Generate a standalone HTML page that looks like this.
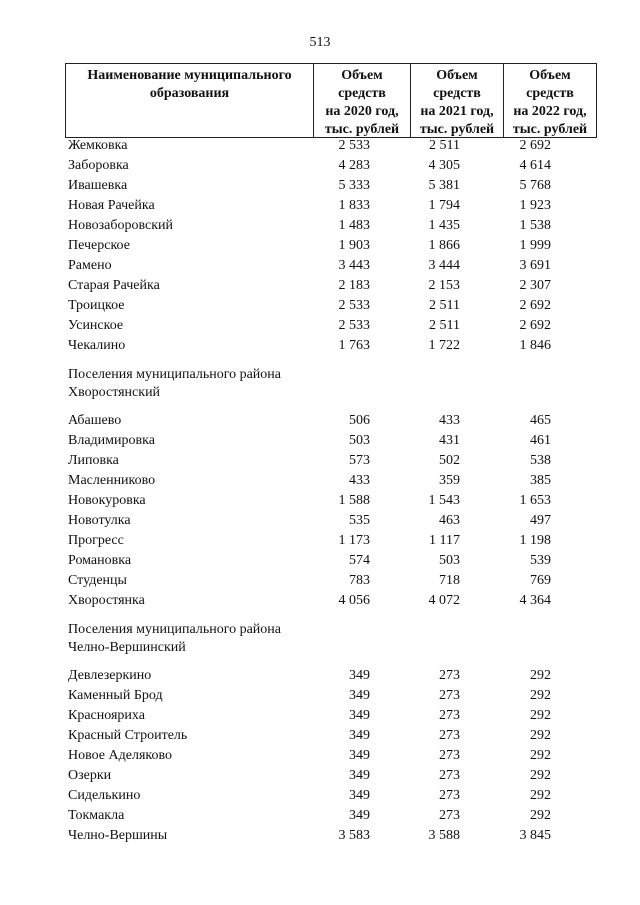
<!DOCTYPE html>
<html><head><meta charset="utf-8"><style>
body{margin:0;width:640px;height:905px;background:#fff;position:relative;font-family:"Liberation Serif",serif;font-size:14px;color:#111;overflow:hidden}
div{position:absolute;line-height:20px;white-space:nowrap}
.n{left:68px}
.a{right:270px}.b{right:180px}.c{right:89px}
.box{border:1px solid #222}
.h{font-weight:bold;text-align:center;line-height:18px}
</style></head><body>
<div style="left:0;width:640px;top:33px;text-align:center">513</div>
<div class="box" style="left:65px;top:63px;width:530px;height:73px"></div>
<div style="left:313px;top:63px;width:1px;height:74px;background:#222"></div>
<div style="left:410px;top:63px;width:1px;height:74px;background:#222"></div>
<div style="left:503px;top:63px;width:1px;height:74px;background:#222"></div>
<div class="h" style="left:66px;width:247px;top:67px">Наименование муниципального<br>образования</div>
<div class="h" style="left:314px;width:96px;top:67px">Объем<br>средств<br>на 2020 год,<br>тыс. рублей</div>
<div class="h" style="left:411px;width:92px;top:67px">Объем<br>средств<br>на 2021 год,<br>тыс. рублей</div>
<div class="h" style="left:504px;width:92px;top:67px">Объем<br>средств<br>на 2022 год,<br>тыс. рублей</div>

<div class="n" style="top:136px">Жемковка</div><div class="a" style="top:136px">2 533</div><div class="b" style="top:136px">2 511</div><div class="c" style="top:136px">2 692</div>
<div class="n" style="top:156px">Заборовка</div><div class="a" style="top:156px">4 283</div><div class="b" style="top:156px">4 305</div><div class="c" style="top:156px">4 614</div>
<div class="n" style="top:176px">Ивашевка</div><div class="a" style="top:176px">5 333</div><div class="b" style="top:176px">5 381</div><div class="c" style="top:176px">5 768</div>
<div class="n" style="top:196px">Новая Рачейка</div><div class="a" style="top:196px">1 833</div><div class="b" style="top:196px">1 794</div><div class="c" style="top:196px">1 923</div>
<div class="n" style="top:216px">Новозаборовский</div><div class="a" style="top:216px">1 483</div><div class="b" style="top:216px">1 435</div><div class="c" style="top:216px">1 538</div>
<div class="n" style="top:236px">Печерское</div><div class="a" style="top:236px">1 903</div><div class="b" style="top:236px">1 866</div><div class="c" style="top:236px">1 999</div>
<div class="n" style="top:256px">Рамено</div><div class="a" style="top:256px">3 443</div><div class="b" style="top:256px">3 444</div><div class="c" style="top:256px">3 691</div>
<div class="n" style="top:276px">Старая Рачейка</div><div class="a" style="top:276px">2 183</div><div class="b" style="top:276px">2 153</div><div class="c" style="top:276px">2 307</div>
<div class="n" style="top:296px">Троицкое</div><div class="a" style="top:296px">2 533</div><div class="b" style="top:296px">2 511</div><div class="c" style="top:296px">2 692</div>
<div class="n" style="top:316px">Усинское</div><div class="a" style="top:316px">2 533</div><div class="b" style="top:316px">2 511</div><div class="c" style="top:316px">2 692</div>
<div class="n" style="top:336px">Чекалино</div><div class="a" style="top:336px">1 763</div><div class="b" style="top:336px">1 722</div><div class="c" style="top:336px">1 846</div>

<div class="n" style="top:365px">Поселения муниципального района</div>
<div class="n" style="top:383px">Хворостянский</div>

<div class="n" style="top:411px">Абашево</div><div class="a" style="top:411px">506</div><div class="b" style="top:411px">433</div><div class="c" style="top:411px">465</div>
<div class="n" style="top:431px">Владимировка</div><div class="a" style="top:431px">503</div><div class="b" style="top:431px">431</div><div class="c" style="top:431px">461</div>
<div class="n" style="top:451px">Липовка</div><div class="a" style="top:451px">573</div><div class="b" style="top:451px">502</div><div class="c" style="top:451px">538</div>
<div class="n" style="top:471px">Масленниково</div><div class="a" style="top:471px">433</div><div class="b" style="top:471px">359</div><div class="c" style="top:471px">385</div>
<div class="n" style="top:491px">Новокуровка</div><div class="a" style="top:491px">1 588</div><div class="b" style="top:491px">1 543</div><div class="c" style="top:491px">1 653</div>
<div class="n" style="top:511px">Новотулка</div><div class="a" style="top:511px">535</div><div class="b" style="top:511px">463</div><div class="c" style="top:511px">497</div>
<div class="n" style="top:531px">Прогресс</div><div class="a" style="top:531px">1 173</div><div class="b" style="top:531px">1 117</div><div class="c" style="top:531px">1 198</div>
<div class="n" style="top:551px">Романовка</div><div class="a" style="top:551px">574</div><div class="b" style="top:551px">503</div><div class="c" style="top:551px">539</div>
<div class="n" style="top:571px">Студенцы</div><div class="a" style="top:571px">783</div><div class="b" style="top:571px">718</div><div class="c" style="top:571px">769</div>
<div class="n" style="top:591px">Хворостянка</div><div class="a" style="top:591px">4 056</div><div class="b" style="top:591px">4 072</div><div class="c" style="top:591px">4 364</div>

<div class="n" style="top:620px">Поселения муниципального района</div>
<div class="n" style="top:638px">Челно-Вершинский</div>

<div class="n" style="top:666px">Девлезеркино</div><div class="a" style="top:666px">349</div><div class="b" style="top:666px">273</div><div class="c" style="top:666px">292</div>
<div class="n" style="top:686px">Каменный Брод</div><div class="a" style="top:686px">349</div><div class="b" style="top:686px">273</div><div class="c" style="top:686px">292</div>
<div class="n" style="top:706px">Краснояриха</div><div class="a" style="top:706px">349</div><div class="b" style="top:706px">273</div><div class="c" style="top:706px">292</div>
<div class="n" style="top:726px">Красный Строитель</div><div class="a" style="top:726px">349</div><div class="b" style="top:726px">273</div><div class="c" style="top:726px">292</div>
<div class="n" style="top:746px">Новое Аделяково</div><div class="a" style="top:746px">349</div><div class="b" style="top:746px">273</div><div class="c" style="top:746px">292</div>
<div class="n" style="top:766px">Озерки</div><div class="a" style="top:766px">349</div><div class="b" style="top:766px">273</div><div class="c" style="top:766px">292</div>
<div class="n" style="top:786px">Сиделькино</div><div class="a" style="top:786px">349</div><div class="b" style="top:786px">273</div><div class="c" style="top:786px">292</div>
<div class="n" style="top:806px">Токмакла</div><div class="a" style="top:806px">349</div><div class="b" style="top:806px">273</div><div class="c" style="top:806px">292</div>
<div class="n" style="top:826px">Челно-Вершины</div><div class="a" style="top:826px">3 583</div><div class="b" style="top:826px">3 588</div><div class="c" style="top:826px">3 845</div>
</body></html>
